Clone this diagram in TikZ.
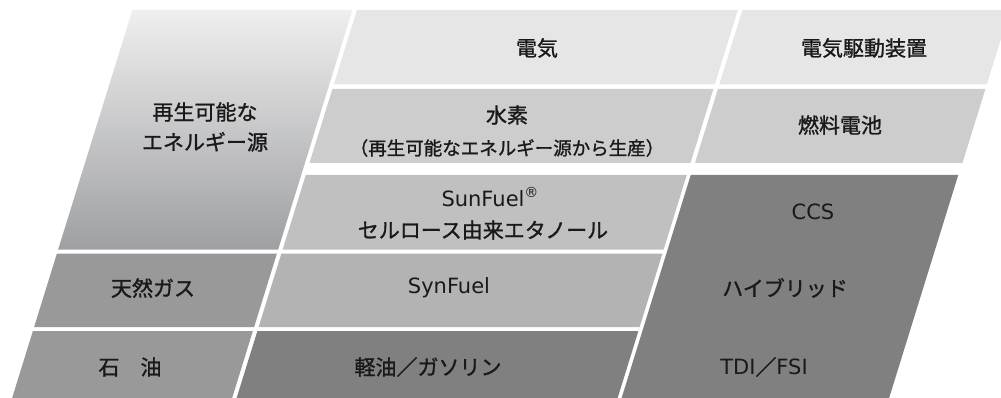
\documentclass[tikz,border=0pt]{standalone}
\usepackage{fontspec}
\setmainfont{Noto Sans CJK JP}[FakeBold=1.2]
\newfontfamily\latinfont{DejaVu Sans}
\usepackage{tikz}
\definecolor{renewtop}{HTML}{EFEFEF}
\definecolor{renewbot}{HTML}{9E9FA2}
\definecolor{elecgray}{HTML}{E6E6E6}
\definecolor{hydrogray}{HTML}{CDCDCD}
\definecolor{sungray}{HTML}{C0C0C0}
\definecolor{syngray}{HTML}{B3B3B3}
\definecolor{fossilgray}{HTML}{999999}
\definecolor{fuelgray}{HTML}{808080}
\pgfmathsetmacro{\slantFactor}{0.31}
\tikzset{
	txt/.style= {
		font=\fontsize{21}{30}\selectfont,
		text=black!90, align=center, inner sep=0
	},
	smalltxt/.style= {
		txt, font=\fontsize{18.5}{24}\selectfont
	},
	lattxt/.style= {
		txt, font=\latinfont\fontsize{21}{30}\selectfont
	}
}

\begin{document}
\begin{tikzpicture}[x=1pt,y=-1pt]
\useasboundingbox (0,0) rectangle (1001,398);
\clip (0,0) rectangle (1001,398);

% slanted cells: u-left/u-right/top/bottom/colour
\begin{scope}[xslant=\slantFactor]
	\shade[top color=renewtop, bottom color=renewbot] (135.5,10) -- (355.5,10) -- (355.5,249.5) -- (135.5,249.5) -- cycle;
	\foreach \ul/\ur/\yt/\yb/\col in {
		135.5/355.5/253.5/327/fossilgray, 135.5/355.5/331/410/fossilgray,
		360/741/10/84.5/elecgray, 360/741/89/163/hydrogray,
		360/741/175/249.5/sungray, 360/741/253.5/327/syngray,
		360/741/331/410/fuelgray,
		745.5/1013/10/84.5/elecgray, 745.5/1013/89/163/hydrogray,
		745/1012.5/175/410/fuelgray}{%
		\fill[\col] (\ul,\yt) -- (\ur,\yt) -- (\ur,\yb) -- (\ul,\yb) -- cycle;
	}
\end{scope}

% left column
\node[txt] (renew) at (205,127) {再生可能な\\エネルギー源};
\node[txt] (natgas) at (153,288) {天然ガス};
\node[txt] (oil) at (130,367) {石　油};

% middle column
\node[txt] (elec) at (537,48) {電気};
\node[txt] (hydro) at (507,115) {水素};
\node[smalltxt] (hydrosrc) at (507,148) {（再生可能なエネルギー源から生産）};
\node[lattxt] (sunfuel) at (490,197) {SunFuel\raisebox{0.45em}{\fontsize{14}{14}\selectfont ®}};
\node[txt] (ethanol) at (483,230) {セルロース由来エタノール};
\node[lattxt] (synfuel) at (449,288) {SynFuel};
\node[txt] (diesel) at (428,367) {軽油／ガソリン};

% right column
\node[txt] (edrive) at (864,48) {電気駆動装置};
\node[txt] (fcell) at (840,125) {燃料電池};
\node[lattxt] (ccs) at (813,212) {CCS};
\node[txt] (hybrid) at (785,288) {ハイブリッド};
\node[txt] (tdi) at (764,367) {{\latinfont TDI}／{\latinfont FSI}};
\end{tikzpicture}
\end{document}
